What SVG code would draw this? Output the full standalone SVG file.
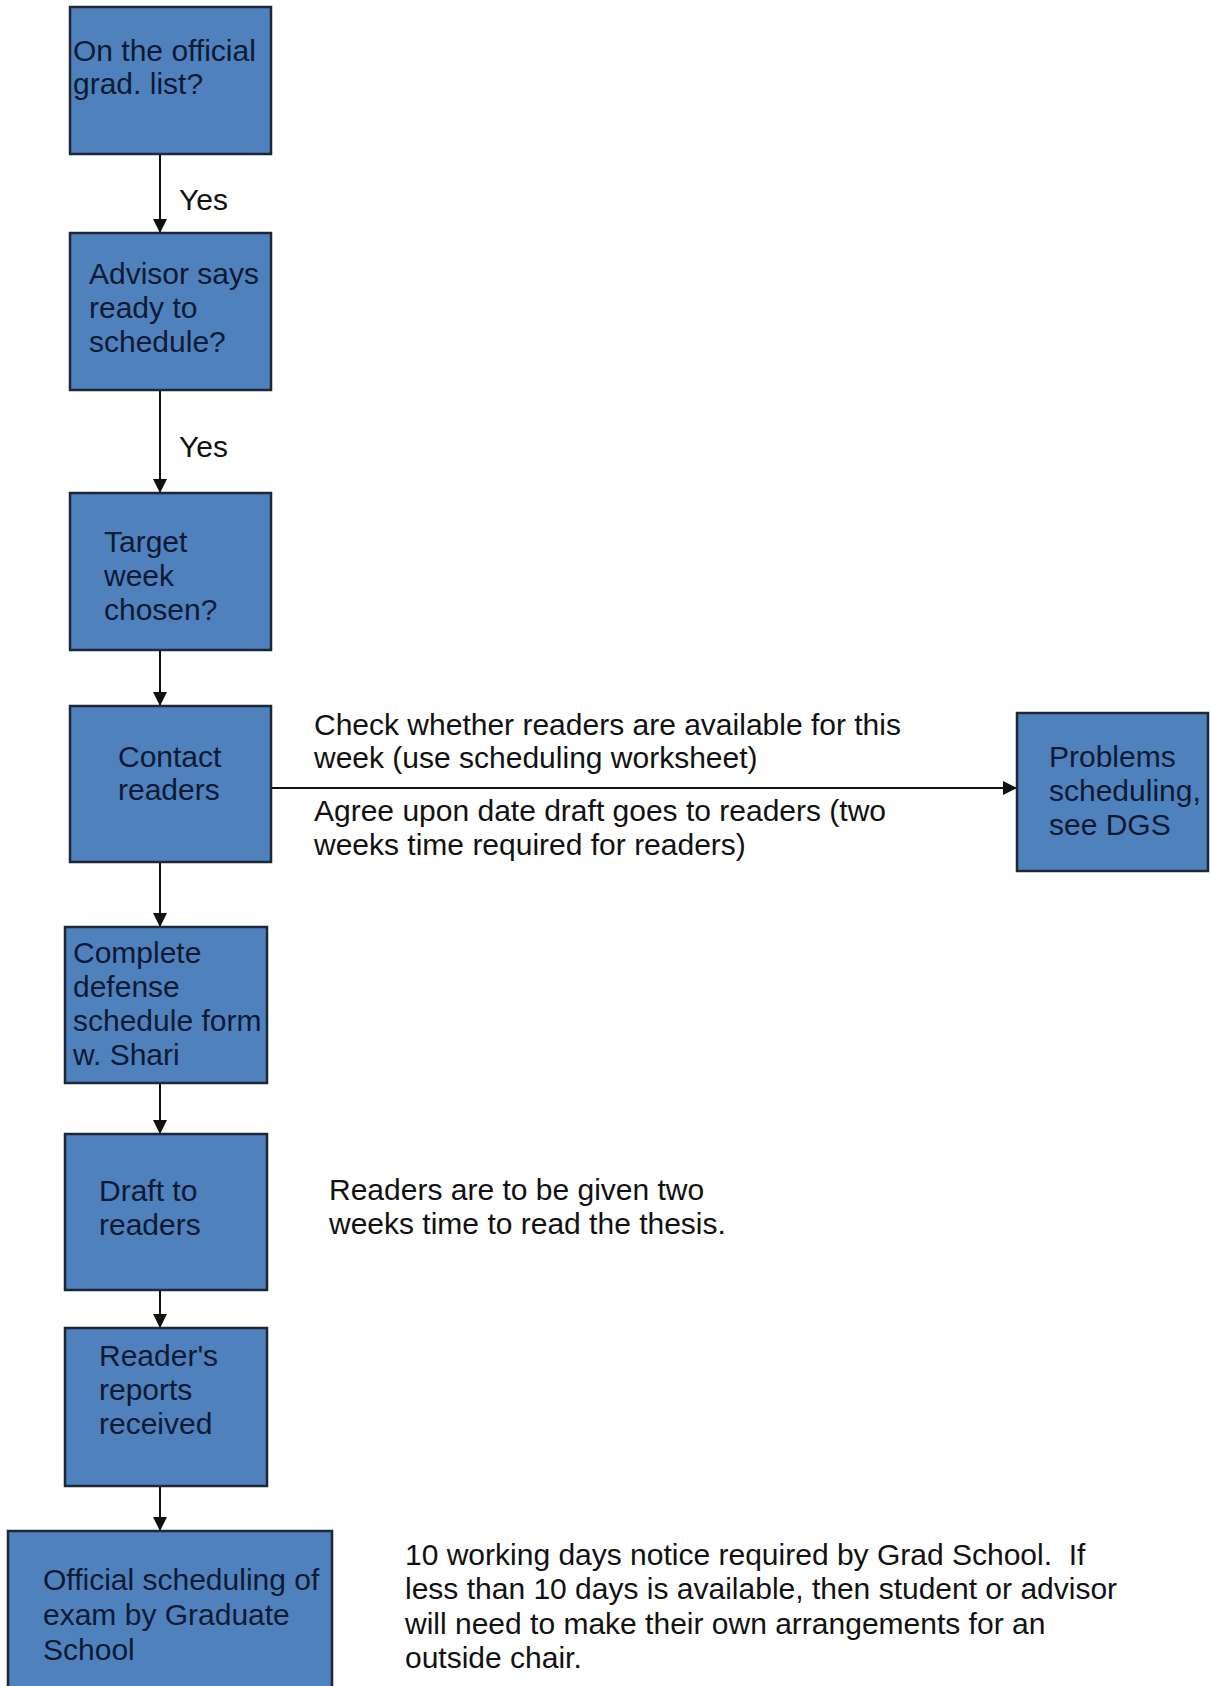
<svg xmlns="http://www.w3.org/2000/svg" width="1210" height="1686" viewBox="0 0 1210 1686">
<defs>
<style>
.box{fill:#4f81bd;stroke:#1c2738;stroke-width:2.5}
.bt{font-family:"Liberation Sans",Arial,sans-serif;font-size:30px;fill:#0c1a33}
.t{font-family:"Liberation Sans",Arial,sans-serif;font-size:30px;fill:#111;white-space:pre}
.c{stroke:#111;stroke-width:2;fill:none;marker-end:url(#ah)}
</style>
<marker id="ah" viewBox="0 0 10 10" refX="10" refY="5" markerWidth="7" markerHeight="7" markerUnits="strokeWidth" orient="auto">
<path d="M0,0 L10,5 L0,10 z" fill="#111"/>
</marker>
</defs>
<rect width="1210" height="1686" fill="#fff"/>
<g id="connectors">
<line class="c" x1="160" y1="155" x2="160" y2="233"/>
<line class="c" x1="160" y1="391" x2="160" y2="493"/>
<line class="c" x1="160" y1="651" x2="160" y2="706"/>
<line class="c" x1="271" y1="788" x2="1017" y2="788"/>
<line class="c" x1="160" y1="863" x2="160" y2="927"/>
<line class="c" x1="160" y1="1084" x2="160" y2="1134"/>
<line class="c" x1="160" y1="1291" x2="160" y2="1328"/>
<line class="c" x1="160" y1="1487" x2="160" y2="1531"/>
<text class="t" x="179" y="210">Yes</text>
<text class="t" x="179" y="457">Yes</text>
</g>
<g id="n1">
<rect class="box" x="70" y="7" width="201" height="147"/>
<text class="bt" x="73" y="61">On the official</text>
<text class="bt" x="73" y="94">grad. list?</text>
</g>
<g id="n2">
<rect class="box" x="70" y="233" width="201" height="157"/>
<text class="bt" x="89" y="284">Advisor says</text>
<text class="bt" x="89" y="318">ready to</text>
<text class="bt" x="89" y="352">schedule?</text>
</g>
<g id="n3">
<rect class="box" x="70" y="493" width="201" height="157"/>
<text class="bt" x="104" y="552">Target</text>
<text class="bt" x="104" y="586">week</text>
<text class="bt" x="104" y="620">chosen?</text>
</g>
<g id="n4">
<rect class="box" x="70" y="706" width="201" height="156"/>
<text class="bt" x="118" y="767">Contact</text>
<text class="bt" x="118" y="800">readers</text>
</g>
<g id="note1">
<text class="t" x="314" y="735">Check whether readers are available for this</text>
<text class="t" x="314" y="768">week (use scheduling worksheet)</text>
<text class="t" x="314" y="821">Agree upon date draft goes to readers (two</text>
<text class="t" x="314" y="855">weeks time required for readers)</text>
</g>
<g id="n9">
<rect class="box" x="1017" y="713" width="191" height="158"/>
<text class="bt" x="1049" y="767">Problems</text>
<text class="bt" x="1049" y="801">scheduling,</text>
<text class="bt" x="1049" y="835">see DGS</text>
</g>
<g id="n5">
<rect class="box" x="65" y="927" width="202" height="156"/>
<text class="bt" x="73" y="963">Complete</text>
<text class="bt" x="73" y="997">defense</text>
<text class="bt" x="73" y="1031">schedule form</text>
<text class="bt" x="73" y="1065">w. Shari</text>
</g>
<g id="n6">
<rect class="box" x="65" y="1134" width="202" height="156"/>
<text class="bt" x="99" y="1201">Draft to</text>
<text class="bt" x="99" y="1235">readers</text>
</g>
<g id="note2">
<text class="t" x="329" y="1200">Readers are to be given two</text>
<text class="t" x="329" y="1234">weeks time to read the thesis.</text>
</g>
<g id="n7">
<rect class="box" x="65" y="1328" width="202" height="158"/>
<text class="bt" x="99" y="1366">Reader's</text>
<text class="bt" x="99" y="1400">reports</text>
<text class="bt" x="99" y="1434">received</text>
</g>
<g id="n8">
<rect class="box" x="8" y="1531" width="324" height="165"/>
<text class="bt" x="43" y="1590">Official scheduling of</text>
<text class="bt" x="43" y="1625">exam by Graduate</text>
<text class="bt" x="43" y="1660">School</text>
</g>
<g id="note3">
<text class="t" x="405" y="1565">10 working days notice required by Grad School.  If</text>
<text class="t" x="405" y="1599">less than 10 days is available, then student or advisor</text>
<text class="t" x="405" y="1634">will need to make their own arrangements for an</text>
<text class="t" x="405" y="1668">outside chair.</text>
</g>
</svg>
